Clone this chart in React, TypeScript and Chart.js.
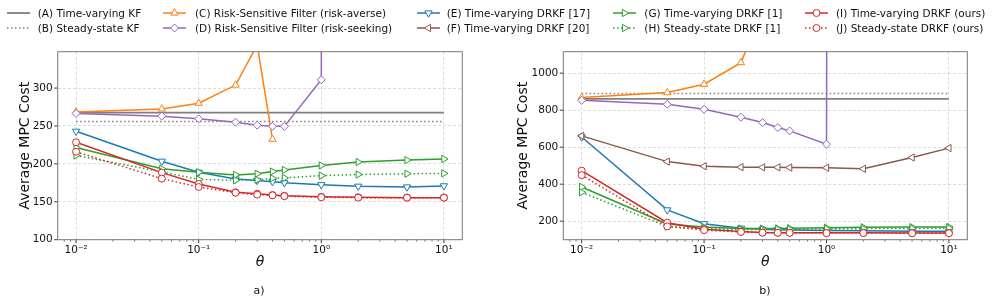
import React, { useEffect, useRef } from 'react';
import { Chart, registerables } from 'chart.js';

Chart.register(...registerables);

// ---------- data ----------
const thetas = [0.01, 0.05, 0.1, 0.2, 0.3, 0.4, 0.5, 1, 2, 5, 10];

const xMajorTicks = [0.01, 0.1, 1, 10];
const xMajorLabels = ['10⁻²', '10⁻¹', '10⁰', '10¹'];
const xMinorTicks = [
  0.008, 0.009,
  0.02, 0.03, 0.04, 0.05, 0.06, 0.07, 0.08, 0.09,
  0.2, 0.3, 0.4, 0.5, 0.6, 0.7, 0.8, 0.9,
  2, 3, 4, 5, 6, 7, 8, 9,
];

const leftYTicks = [100, 150, 200, 250, 300];
const rightYTicks = [200, 400, 600, 800, 1000];

const seriesLabels = [
  '(A) Time-varying KF',
  '(B) Steady-state KF',
  '(C) Risk-Sensitive Filter (risk-averse)',
  '(D) Risk-Sensitive Filter (risk-seeking)',
  '(E) Time-varying DRKF [17]',
  '(F) Time-varying DRKF [20]',
  '(G) Time-varying DRKF [1]',
  '(H) Steady-state DRKF [1]',
  '(I) Time-varying DRKF (ours)',
  '(J) Steady-state DRKF (ours)',
];

// panel a)
const leftA = [267.5, 267.5, 267.5, 267.5, 267.5, 267.5, 267.5, 267.5, 267.5, 267.5, 267.5];
const leftB = [256, 256, 256, 256, 256, 256, 256, 256, 256, 256, 256];
const leftC = [268.5, 272.5, 280, 304, 357, 232.5, null, null, null, null, null];
const leftD = [266.5, 263, 259.5, 255, 251, 249.5, 249.5, 311, 100000, null, null];
const leftE = [243, 203.5, 189, 180, 178, 176.5, 175, 172.5, 170.5, 169.5, 171];
const leftF = [null, null, null, null, null, null, null, null, null, null, null];
const leftG = [221.5, 193.5, 189, 185.5, 187, 190, 192, 198, 202.5, 205, 206.5];
const leftH = [211, 189.5, 179.5, 178.5, 179, 181, 181.5, 184.5, 186, 187, 187.5];
const leftI = [228.5, 188.5, 173.5, 162.5, 160.5, 159, 158, 156.5, 156, 155.5, 155.5];
const leftJ = [216, 180.5, 169.5, 162, 159.5, 158.5, 157.5, 156, 155.5, 155.5, 155.5];

// panel b)
const rightA = [861, 861, 861, 861, 861, 861, 861, 861, 861, 861, 861];
const rightB = [890, 890, 890, 890, 890, 890, 890, 890, 890, 890, 890];
const rightC = [868, 895, 940, 1057, 1340, null, null, null, null, null, null];
const rightD = [853, 832, 805, 762, 733, 706, 688, 616, 100000, null, null];
const rightE = [655, 261, 186, 162, 156, 154, 153, 150, 148, 146, 146];
const rightF = [661, 522, 497, 492, 491, 491, 490, 489, 483, 544, 595];
const rightG = [385, 185, 168, 160, 160, 161, 162, 165, 167, 168, 169];
const rightH = [356, 171, 160, 155, 155, 156, 156, 158, 160, 161, 162];
const rightI = [473, 192, 157, 144, 139, 138, 138, 137, 137, 136, 136];
const rightJ = [449, 172, 152, 142, 138, 137, 137, 136, 136, 135, 135];

const leftSeries = [leftA, leftB, leftC, leftD, leftE, leftF, leftG, leftH, leftI, leftJ];
const rightSeries = [rightA, rightB, rightC, rightD, rightE, rightF, rightG, rightH, rightI, rightJ];

// ---------- styles ----------
type Sty = { color: string; width: number; dash: number[]; marker: string | null; rot: number; r: number };
const DOT = [1.5, 2.5];
const styles: Sty[] = [
  { color: '#7f7f7f', width: 1.8, dash: [], marker: null, rot: 0, r: 0 },
  { color: '#7f7f7f', width: 1.5, dash: DOT, marker: null, rot: 0, r: 0 },
  { color: '#ff7f0e', width: 1.5, dash: [], marker: 'triangle', rot: 0, r: 4.2 },
  { color: '#9467bd', width: 1.5, dash: [], marker: 'rectRot', rot: 0, r: 4 },
  { color: '#1f77b4', width: 1.5, dash: [], marker: 'triangle', rot: 180, r: 4.2 },
  { color: '#8c564b', width: 1.5, dash: [], marker: 'triangle', rot: 270, r: 4.2 },
  { color: '#2ca02c', width: 1.5, dash: [], marker: 'triangle', rot: 90, r: 4.2 },
  { color: '#2ca02c', width: 1.5, dash: DOT, marker: 'triangle', rot: 90, r: 4.2 },
  { color: '#d62728', width: 1.5, dash: [], marker: 'circle', rot: 0, r: 3.5 },
  { color: '#d62728', width: 1.5, dash: DOT, marker: 'circle', rot: 0, r: 3.5 },
];

const FONT = 'DejaVu Sans';
const GRID = 'rgba(176,176,176,0.55)';

const isMajorX = (v: number) => xMajorTicks.some((m) => Math.abs(m - v) / m < 1e-9);

const framePlugin = {
  id: 'frameTicks',
  afterDraw(chart: any) {
    const { ctx, chartArea: a, scales } = chart;
    ctx.save();
    ctx.strokeStyle = '#222';
    const xs = scales.x;
    for (const t of xs.ticks) {
      const px = xs.getPixelForValue(t.value);
      const major = isMajorX(t.value);
      ctx.lineWidth = major ? 0.9 : 0.6;
      ctx.beginPath();
      ctx.moveTo(px, a.bottom);
      ctx.lineTo(px, a.bottom + (major ? 3.5 : 2));
      ctx.stroke();
    }
    const ys = scales.y;
    for (const t of ys.ticks) {
      const py = ys.getPixelForValue(t.value);
      ctx.lineWidth = 0.9;
      ctx.beginPath();
      ctx.moveTo(a.left, py);
      ctx.lineTo(a.left - 3.5, py);
      ctx.stroke();
    }
    ctx.strokeStyle = '#777';
    ctx.lineWidth = 1;
    ctx.strokeRect(a.left, a.top, a.right - a.left, a.bottom - a.top);
    ctx.restore();
  },
};

function makeConfig(series: (number | null)[][], yMin: number, yMax: number, yTicks: number[], yAxisWidth: number, padRight: number) {
  const datasets = series.map((vals, i) => {
    const s = styles[i];
    return {
      label: seriesLabels[i],
      data: thetas.map((t, j) => ({ x: t, y: vals[j] })),
      borderColor: s.color,
      borderWidth: s.width,
      borderDash: s.dash,
      backgroundColor: '#ffffff',
      pointStyle: s.marker || 'circle',
      pointRadius: s.marker ? s.r : 0,
      pointHoverRadius: s.marker ? s.r : 0,
      pointRotation: s.rot,
      pointBorderColor: s.color,
      pointBackgroundColor: '#ffffff',
      pointBorderWidth: 1,
      tension: 0,
      spanGaps: false,
      order: 10 - i,
    };
  });
  return {
    type: 'line',
    data: { datasets },
    options: {
      animation: false,
      responsive: false,
      devicePixelRatio: 1,
      events: [],
      layout: { padding: { top: 51.7, left: 0, right: padRight, bottom: 0 } },
      plugins: { legend: { display: false }, tooltip: { enabled: false } },
      scales: {
        x: {
          type: 'logarithmic',
          min: Math.pow(10, -2.15),
          max: Math.pow(10, 1.15),
          bounds: 'data',
          afterBuildTicks: (scale: any) => {
            scale.ticks = [...xMinorTicks, ...xMajorTicks].sort((a, b) => a - b).map((v) => ({ value: v }));
          },
          afterFit: (scale: any) => {
            scale.height = 62.3;
          },
          ticks: {
            autoSkip: false,
            maxRotation: 0,
            minRotation: 0,
            padding: 4,
            color: '#111',
            font: { family: FONT, size: 10.5 },
            callback: (v: number) => {
              const i = xMajorTicks.findIndex((m) => Math.abs(m - v) / m < 1e-9);
              return i >= 0 ? xMajorLabels[i] : '';
            },
          },
          grid: {
            drawTicks: false,
            color: GRID,
            lineWidth: (ctx: any) => (ctx.tick && isMajorX(ctx.tick.value) ? 0.8 : 0),
          },
          border: { display: false, dash: [3, 2] },
          title: {
            display: true,
            text: 'θ',
            color: '#111',
            font: { family: FONT, size: 14, style: 'italic' },
            padding: { top: 0, bottom: 31.6 },
          },
        },
        y: {
          type: 'linear',
          min: yMin,
          max: yMax,
          bounds: 'data',
          afterBuildTicks: (scale: any) => {
            scale.ticks = yTicks.map((v) => ({ value: v }));
          },
          afterFit: (scale: any) => {
            scale.width = yAxisWidth;
          },
          ticks: {
            padding: 5,
            color: '#111',
            font: { family: FONT, size: 10.5 },
            callback: (v: number) => String(v),
          },
          grid: { drawTicks: false, color: GRID, lineWidth: 0.8 },
          border: { display: false, dash: [3, 2] },
          title: {
            display: true,
            text: 'Average MPC Cost',
            color: '#111',
            font: { family: FONT, size: 14 },
            padding: { top: 16.6, bottom: 0 },
          },
        },
      },
    },
    plugins: [framePlugin],
  };
}

function Panel(props: { series: (number | null)[][]; yMin: number; yMax: number; yTicks: number[]; yAxisWidth: number; padRight: number; left: number }) {
  const ref = useRef<HTMLCanvasElement | null>(null);
  useEffect(() => {
    if (!ref.current) return;
    const chart = new Chart(ref.current, makeConfig(props.series, props.yMin, props.yMax, props.yTicks, props.yAxisWidth, props.padRight) as any);
    return () => chart.destroy();
  }, []);
  return (
    <canvas
      ref={ref}
      width={498}
      height={302}
      style={{ position: 'absolute', left: props.left, top: 0, width: 498, height: 302 }}
    />
  );
}

function LegendSample({ s }: { s: Sty }) {
  const w = 23;
  const h = 14;
  const cx = w / 2;
  const cy = h / 2;
  let marker: React.ReactNode = null;
  if (s.marker === 'circle') {
    marker = <circle cx={cx} cy={cy} r={s.r} fill="#fff" stroke={s.color} strokeWidth={1} />;
  } else if (s.marker === 'triangle') {
    const pts: string[] = [];
    for (let k = 0; k < 3; k++) {
      const a = (s.rot * Math.PI) / 180 + (k * 2 * Math.PI) / 3;
      pts.push(`${cx + Math.sin(a) * s.r},${cy - Math.cos(a) * s.r}`);
    }
    marker = <polygon points={pts.join(' ')} fill="#fff" stroke={s.color} strokeWidth={1} />;
  } else if (s.marker === 'rectRot') {
    const r = s.r;
    marker = (
      <polygon
        points={`${cx},${cy - r} ${cx + r},${cy} ${cx},${cy + r} ${cx - r},${cy}`}
        fill="#fff"
        stroke={s.color}
        strokeWidth={1}
      />
    );
  }
  return (
    <svg width={w} height={h} style={{ display: 'block' }}>
      <line x1={0} y1={cy} x2={w} y2={cy} stroke={s.color} strokeWidth={s.width} strokeDasharray={s.dash.length ? s.dash.join(' ') : undefined} />
      {marker}
    </svg>
  );
}

const legendLineX = [6.7, 163.3, 416.7, 613.3, 805.3];
const legendTextX = [37.7, 195, 446.7, 644.3, 836];
const legendRowY = [13.3, 28.3];

export default function App() {
  return (
    <div style={{ position: 'fixed', left: 0, top: 0, width: 996, height: 302, background: '#fff', overflow: 'hidden', fontFamily: FONT }}>
      <Panel series={leftSeries} yMin={100} yMax={348} yTicks={leftYTicks} yAxisWidth={57.7} padRight={35.7} left={0} />
      <Panel series={rightSeries} yMin={100} yMax={1116} yTicks={rightYTicks} yAxisWidth={65.3} padRight={28.7} left={498} />
      {seriesLabels.map((label, i) => {
        const col = Math.floor(i / 2);
        const row = i % 2;
        return (
          <React.Fragment key={label}>
            <div style={{ position: 'absolute', left: legendLineX[col], top: legendRowY[row] - 7 }}>
              <LegendSample s={styles[i]} />
            </div>
            <div
              style={{
                position: 'absolute',
                left: legendTextX[col],
                top: legendRowY[row] - 8,
                height: 16,
                lineHeight: '16px',
                fontSize: 10.5,
                color: '#111',
                whiteSpace: 'nowrap',
              }}
            >
              {label}
            </div>
          </React.Fragment>
        );
      })}
      <div style={{ position: 'absolute', left: 239, width: 40, top: 283, height: 16, lineHeight: '16px', textAlign: 'center', fontSize: 11, color: '#111' }}>a)</div>
      <div style={{ position: 'absolute', left: 745, width: 40, top: 283, height: 16, lineHeight: '16px', textAlign: 'center', fontSize: 11, color: '#111' }}>b)</div>
    </div>
  );
}
